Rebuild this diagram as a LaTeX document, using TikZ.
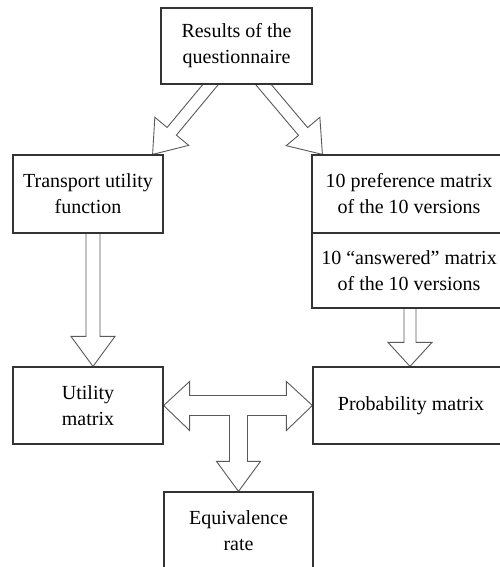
\documentclass[tikz,border=0pt]{standalone}
\usepackage{fontspec}
\setmainfont{Liberation Serif}
\usetikzlibrary{calc,backgrounds}

\tikzset{
  box/.style={draw=black!80, line width=1.2pt, fill=white, align=center,
    font=\fontsize{20}{26}\selectfont},
  blockarrow/.style={draw=black!65, line width=0.9pt, fill=white, line join=miter}
}

\begin{document}
\begin{tikzpicture}[x=1pt,y=-1pt]
                \useasboundingbox (0,0) rectangle (499,567);
                % boxes
                \node[box, minimum width=151pt, minimum height=76pt] (res) at (236.5,46) {Results of the\\questionnaire};
                \node[box, minimum width=150pt, minimum height=78pt] (tuf) at (88,194) {Transport utility\\function};
                \node[box, minimum width=194pt, minimum height=78pt] (pref) at (409,194) {10 preference matrix\\of the 10 versions};
                \node[box, minimum width=194pt, minimum height=75pt] (ans) at (409,270.5) {10 “answered” matrix\\of the 10 versions};
                \node[box, minimum width=150pt, minimum height=77pt] (util) at (88,405.5) {Utility\\matrix};
                \node[box, minimum width=196pt, minimum height=77pt] (prob) at (411,405.5) {Probability matrix};
                \node[box, minimum width=149pt, minimum height=77pt] (equiv) at (238.5,530.5) {Equivalence\\rate};
                % ends of the block arrows
                \coordinate (s1) at ($(res.south)+(-26,0)$);
                \coordinate (t1) at ($(tuf.north east)+(-11,0)$);
                \coordinate (s2) at ($(res.south)+(27,0)$);
                \coordinate (t2) at ($(pref.north west)+(11,0)$);
                \coordinate (s3) at ($(tuf.south)+(5,0)$);
                \coordinate (t3) at ($(util.north)+(5,0)$);
                \coordinate (s4) at ($(ans.south)+(1,0)$);
                \coordinate (t4) at (s4 |- prob.north);
                \coordinate (mid) at (equiv.north |- util.east);
                \begin{scope}[on background layer]
                \foreach \a/\b/\s/\h/\l in {s1/t1/6pt/22pt/30pt, s2/t2/6pt/22pt/30pt, s3/t3/7pt/22pt/30pt, s4/t4/6pt/22pt/24pt}
                {
                    \coordinate (base) at ($(\a)!-8pt!(\b)$);
                    \coordinate (neck) at ($(\b)!\l!(\a)$);
                    \draw[blockarrow] ($(base)!\s!90:(\b)$) -- ($(neck)!\s!90:(\b)$) -- ($(neck)!\h!90:(\b)$) -- (\b)
                        -- ($(neck)!\h!-90:(\b)$) -- ($(neck)!\s!-90:(\b)$) -- ($(base)!\s!-90:(\b)$) -- cycle;
                }
                % double arrow with its stem
                \draw[blockarrow] (util.east) -- ($(util.east)+(26,-24)$) -- ($(util.east)+(26,-10)$)
                    -- ($(prob.west)+(-26,-10)$) -- ($(prob.west)+(-26,-24)$) -- (prob.west)
                    -- ($(prob.west)+(-26,25)$) -- ($(prob.west)+(-26,10)$) -- ($(mid)+(9,10)$)
                    -- ($(equiv.north)+(9,-30)$) -- ($(equiv.north)+(22,-30)$) -- (equiv.north)
                    -- ($(equiv.north)+(-22,-30)$) -- ($(equiv.north)+(-9,-30)$) -- ($(mid)+(-9,10)$)
                    -- ($(util.east)+(26,10)$) -- ($(util.east)+(26,25)$) -- cycle;
                \end{scope}
\end{tikzpicture}
\end{document}
